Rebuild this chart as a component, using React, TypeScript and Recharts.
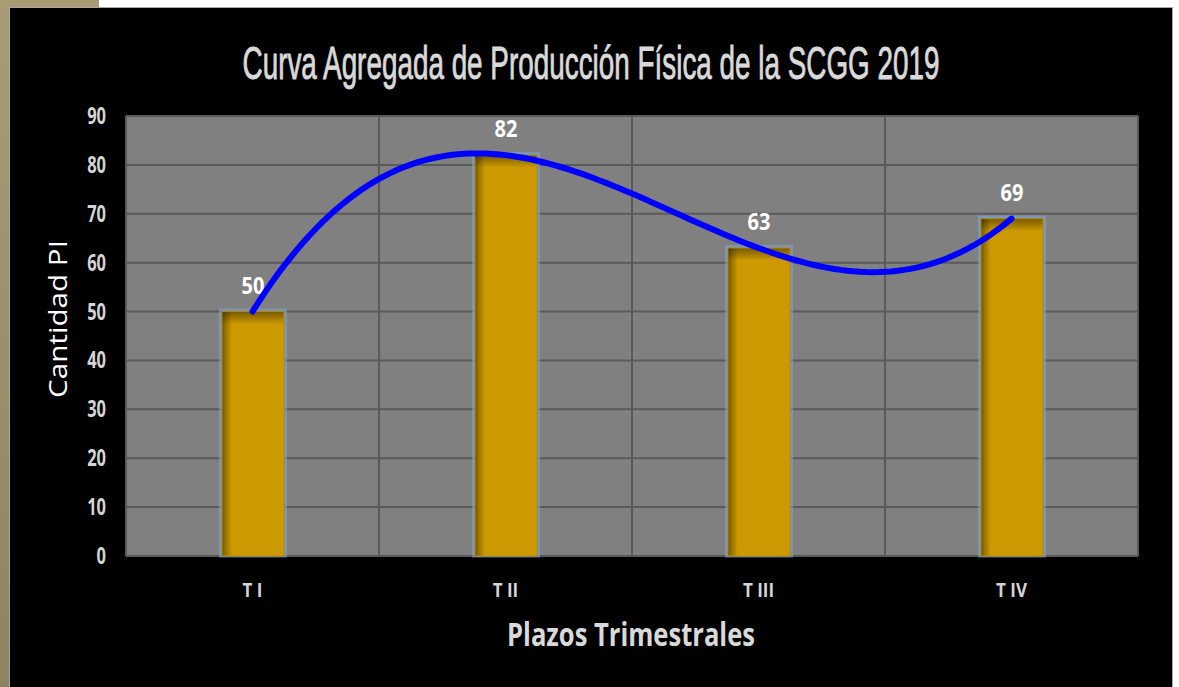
import React from "react"
import { ComposedChart, Bar, Line, XAxis, YAxis, CartesianGrid } from "recharts"

const quarters = ["T I", "T II", "T III", "T IV"]
const production = [50, 82, 63, 69]
const yTicks = [0, 10, 20, 30, 40, 50, 60, 70, 80, 90]

const data = quarters.map((quarter, i) => ({ quarter, value: production[i] }))

const TICK_COLOR = "#d4d4d4"

// Excel's "smoothed line": one cubic through the points (Lagrange), sampled
function curveExcelSmooth(context: any) {
  let xs: number[] = []
  let ys: number[] = []
  const f = (x: number) => {
    let sum = 0
    for (let i = 0; i < xs.length; i++) {
      let term = ys[i]
      for (let j = 0; j < xs.length; j++) {
        if (j !== i) term *= (x - xs[j]) / (xs[i] - xs[j])
      }
      sum += term
    }
    return sum
  }
  return {
    areaStart() {},
    areaEnd() {},
    lineStart() {
      xs = []
      ys = []
    },
    point(x: number, y: number) {
      xs.push(+x)
      ys.push(+y)
    },
    lineEnd() {
      if (!xs.length) return
      context.moveTo(xs[0], ys[0])
      for (let i = 0; i < xs.length - 1; i++) {
        for (let k = 1; k <= 40; k++) {
          const x = xs[i] + ((xs[i + 1] - xs[i]) * k) / 40
          context.lineTo(x, f(x))
        }
      }
    },
  }
}

function YTick({ x, y, payload }: any) {
  return (
    <text
      transform={`translate(${x},${y + 8}) scale(1,1.35)`}
      textAnchor="end"
      fill={TICK_COLOR}
      fontFamily="'Open Sans', sans-serif"
      fontWeight={700}
      fontSize={16.5}
    >
      {payload.value}
    </text>
  )
}

function XTick({ x, y, payload }: any) {
  return (
    <text
      transform={`translate(${x},${y + 41}) scale(1,1.15)`}
      textAnchor="middle"
      fill={TICK_COLOR}
      fontFamily="'Open Sans', sans-serif"
      fontWeight={700}
      fontSize={17}
    >
      {payload.value}
    </text>
  )
}

function GoldBar(props: any) {
  const { x, y, width, height, payload } = props
  if (!width || !height) return null
  return (
    <g>
      <rect
        x={x - 1.5}
        y={y - 1.5}
        width={width + 3}
        height={height + 1.5}
        fill="none"
        stroke="rgba(120,165,220,0.6)"
        strokeWidth={3}
      />
      <rect x={x} y={y} width={width} height={height} fill="url(#barSide)" stroke="#b88a00" strokeWidth={1} />
      <rect x={x + 0.5} y={y + 0.5} width={width - 1} height={Math.min(12, height)} fill="url(#barTop)" />
      <text
        transform={`translate(${x + width / 2},${y - 18}) scale(1,1.2)`}
        textAnchor="middle"
        fill="#ffffff"
        fontFamily="'Open Sans', sans-serif"
        fontWeight={700}
        fontSize={20}
      >
        {payload.value}
      </text>
    </g>
  )
}

export default function App() {
  return (
    <div style={{ position: "absolute", left: 0, top: 0, width: 1179, height: 687, background: "#ffffff", overflow: "hidden" }}>
      <div style={{ position: "absolute", left: 0, top: 0, width: 9, height: 687, background: "linear-gradient(#a89c74, #8e8360)" }} />
      <div style={{ position: "absolute", left: 0, top: 0, width: 99, height: 8, background: "#a89c74" }} />
      <div
        style={{
          position: "absolute",
          left: 9,
          top: 7,
          width: 1162,
          height: 690,
          background: "#000000",
          border: "1px solid #a8a8a8",
        }}
      />
      <svg width={0} height={0} style={{ position: "absolute" }}>
        <defs>
          <linearGradient id="barSide" x1="0" y1="0" x2="1" y2="0">
            <stop offset="0%" stopColor="#6e5200" />
            <stop offset="5%" stopColor="#957000" />
            <stop offset="16%" stopColor="#cc9900" />
            <stop offset="100%" stopColor="#cc9900" />
          </linearGradient>
          <linearGradient id="barTop" x1="0" y1="0" x2="0" y2="1">
            <stop offset="0%" stopColor="#000000" stopOpacity={0.4} />
            <stop offset="100%" stopColor="#000000" stopOpacity={0} />
          </linearGradient>
        </defs>
      </svg>
      <div style={{ position: "absolute", left: 0, top: 0 }}>
        <ComposedChart
          width={1179}
          height={687}
          data={data}
          margin={{ top: 116, right: 41, bottom: 130, left: 125 }}
        >
          <CartesianGrid
            fill="#808080"
            stroke="#5a5a5a"
            strokeWidth={2}
            verticalCoordinatesGenerator={({ offset }: any) =>
              [0, 1, 2, 3, 4].map((i) => offset.left + (offset.width * i) / 4)
            }
          />
          <XAxis
            dataKey="quarter"
            height={1}
            axisLine={false}
            tickLine={false}
            tickSize={0}
            tickMargin={0}
            tick={<XTick />}
            interval={0}
          />
          <YAxis
            width={1}
            domain={[0, 90]}
            ticks={yTicks}
            interval={0}
            axisLine={false}
            tickLine={false}
            tickSize={0}
            tickMargin={20}
            tick={<YTick />}
          />
          <Bar dataKey="value" barSize={62} shape={<GoldBar />} isAnimationActive={false} />
          <Line
            dataKey="value"
            type={curveExcelSmooth as any}
            stroke="#0000ff"
            strokeWidth={6}
            strokeLinecap="round"
            dot={false}
            activeDot={false}
            isAnimationActive={false}
          />
        </ComposedChart>
      </div>
      <svg width={1179} height={687} style={{ position: "absolute", left: 0, top: 0, pointerEvents: "none" }}>
        <text
          transform="translate(591,79) scale(1,1.3)"
          textAnchor="middle"
          fill="#d9d9d9"
          stroke="#d9d9d9"
          strokeWidth={0.7}
          fontFamily="'Liberation Sans', Arial, sans-serif"
          fontWeight={400}
          fontSize={36}
          textLength={697}
          lengthAdjust="spacingAndGlyphs"
        >
          Curva Agregada de Producción Física de la  SCGG 2019
        </text>
        <text
          transform="translate(631,646) scale(1,1.35)"
          textAnchor="middle"
          fill="#d9d9d9"
          fontFamily="'Open Sans', sans-serif"
          fontWeight={700}
          fontSize={24}
          textLength={248}
          lengthAdjust="spacingAndGlyphs"
        >
          Plazos Trimestrales
        </text>
        <text
          transform="translate(67,319) rotate(-90)"
          textAnchor="middle"
          fill="#ffffff"
          fontFamily="'Open Sans', sans-serif"
          fontSize={26}
          textLength={158}
          lengthAdjust="spacingAndGlyphs"
        >
          Cantidad  PI
        </text>
      </svg>
    </div>
  )
}
